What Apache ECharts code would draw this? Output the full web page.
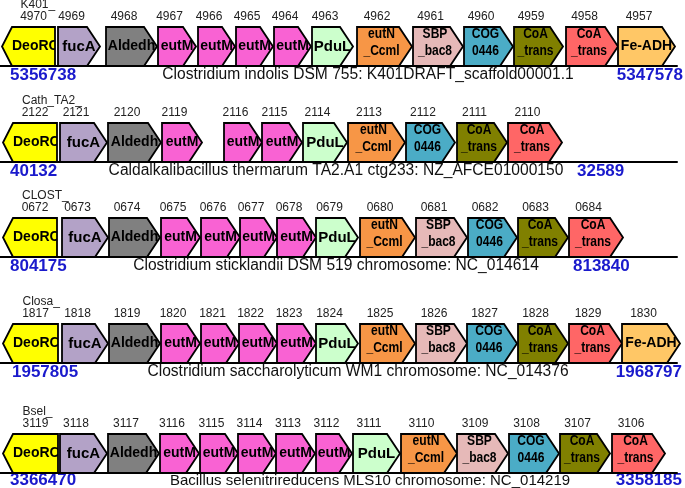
<!DOCTYPE html>
<html><head><meta charset="utf-8">
<script src="https://cdn.jsdelivr.net/npm/echarts@6/dist/echarts.min.js"></script>
<style>html,body{margin:0;padding:0;background:#fff}#c{width:685px;height:488px}</style>
</head><body><div id="c"></div>
<script>
// ---------------- DATA ----------------
const species = [
  'Clostridium indolis DSM 755: K401DRAFT_scaffold00001.1',
  'Caldalkalibacillus thermarum TA2.A1 ctg233: NZ_AFCE01000150',
  'Clostridium sticklandii DSM 519 chromosome: NC_014614',
  'Clostridium saccharolyticum WM1 chromosome: NC_014376',
  'Bacillus selenitrireducens MLS10 chromosome: NC_014219'
];
const prefixes = ['K401_', 'Cath_TA2_', 'CLOST_', 'Closa_', 'Bsel_'];
const coordStart = ['5356738', '40132', '804175', '1957805', '3366470'];
const coordEnd = ['5347578', '32589', '813840', '1968797', '3358185'];

const genes1 = ['DeoRC','fucA','Aldedh','eutM','eutM','eutM','eutM','PduL','eutN','SBP','COG','CoAa','CoAb','FeADH'];
const start1 = [2, 58, 106, 158, 198, 236, 274, 312, 357, 413, 464, 514, 566, 618];
const end1   = [55, 100, 157, 196, 235, 273, 311, 353, 412, 463, 513, 563, 618, 675];
const ids1   = ['4970','4969','4968','4967','4966','4965','4964','4963','4962','4961','4960','4959','4958','4957'];

const genes2 = ['DeoRC','fucA','Aldedh','eutM','eutM','eutM','PduL','eutN','COG','CoAa','CoAb'];
const start2 = [3, 60, 108, 162, 224, 262, 303, 348, 406, 457, 508];
const end2   = [57, 107, 161, 202, 262, 302, 347, 405, 455, 507, 562];
const ids2   = ['2122','2121','2120','2119','2116','2115','2114','2113','2112','2111','2110'];

const genes3 = ['DeoRC','fucA','Aldedh','eutM','eutM','eutM','eutM','PduL','eutN','SBP','COG','CoAa','CoAb'];
const start3 = [3, 62, 109, 161, 201, 240, 277, 316, 360, 416, 468, 518, 569];
const end3   = [57, 108, 160, 200, 240, 277, 316, 358, 415, 467, 517, 568, 623];
const ids3   = ['0672','0673','0674','0675','0676','0677','0678','0679','0680','0681','0682','0683','0684'];

const genes4 = ['DeoRC','fucA','Aldedh','eutM','eutM','eutM','eutM','PduL','eutN','SBP','COG','CoAa','CoAb','FeADH'];
const start4 = [3, 62, 109, 161, 201, 239, 277, 316, 360, 416, 467, 518, 569, 622];
const end4   = [58, 108, 160, 200, 239, 277, 316, 358, 415, 467, 517, 568, 622, 680];
const ids4   = ['1817','1818','1819','1820','1821','1822','1823','1824','1825','1826','1827','1828','1829','1830'];

const genes5 = ['DeoRC','fucA','Aldedh','eutM','eutM','eutM','eutM','eutM','PduL','eutN','SBP','COG','CoAa','CoAb'];
const start5 = [3, 60, 108, 160, 200, 238, 276, 316, 353, 401, 457, 509, 560, 612];
const end5   = [58, 107, 159, 199, 238, 276, 315, 352, 400, 457, 508, 559, 610, 665];
const ids5   = ['3119','3118','3117','3116','3115','3114','3113','3112','3111','3110','3109','3108','3107','3106'];

const geneLabels = {DeoRC:'DeoRC', fucA:'fucA', Aldedh:'Aldedh', eutM:'eutM', PduL:'PduL',
  eutN:'eutN\n_Ccml', SBP:'SBP\n_bac8', COG:'COG\n0446', CoAa:'CoA\n_trans', CoAb:'CoA\n_trans', FeADH:'Fe-ADH'};
const reverseGenes = ['DeoRC'];

// ---------------- STYLE / LAYOUT ----------------
const colors = {DeoRC:'#ffff00', fucA:'#b3a2c7', Aldedh:'#808080', eutM:'#f962d3', PduL:'#ccffcc',
  eutN:'#f79646', SBP:'#e6b9b8', COG:'#4bacc6', CoAa:'#808000', CoAb:'#ff6666', FeADH:'#ffc766'};
const fontSize = {DeoRC:14, fucA:15, Aldedh:14, eutM:14, PduL:15, eutN:14, SBP:14, COG:14, CoAa:14, CoAb:14, FeADH:14};
const FONT = '"Liberation Sans", Arial, sans-serif';
const layout = {
  top: [27, 123, 218, 324, 434], height: 39,
  textDy: [9, 9, 9, 9, 7.5],
  speciesFont: [15.6, 15.6, 15.6, 15.6, 15],
  speciesX: [368, 336, 336, 358, 370],
  startX: [10, 10, 10, 12, 10],
  endX: [683, 577, 573, 682, 682],
  endAlign: ['right', 'left', 'left', 'right', 'right']
};

const tracks = [
  {genes: genes1, start: start1, end: end1, ids: ids1},
  {genes: genes2, start: start2, end: end2, ids: ids2},
  {genes: genes3, start: start3, end: end3, ids: ids3},
  {genes: genes4, start: start4, end: end4, ids: ids4},
  {genes: genes5, start: start5, end: end5, ids: ids5}
];

function makeRender(t) {
  const tr = tracks[t];
  return function (params, api) {
    const i = params.dataIndex;
    const a = api.coord([api.value(0), 1]);
    const b = api.coord([api.value(1), 0]);
    const L = a[0], T = a[1], R = b[0], B = b[1], M = (T + B) / 2;
    const key = tr.genes[i];
    const rev = reverseGenes.indexOf(key) >= 0;
    const h = rev ? 10 : 13;
    const pts = rev ? [[L + h, T], [R, T], [R, B], [L + h, B], [L, M]]
                    : [[L, T], [R - h, T], [R, M], [R - h, B], [L, B]];
    const label = geneLabels[key];
    const two = label.indexOf('\n') >= 0;
    let tx, al;
    if (rev) { tx = L + h; al = 'left'; } else { tx = (L + R) / 2 - (two ? 3 : 0); al = 'center'; }
    const ty = M - (two ? 4 : 0);
    const bodyC = rev ? (L + h + R) / 2 : (L + R - h) / 2 - 1;
    const children = [
      {type: 'polygon', shape: {points: pts}, style: {fill: colors[key], stroke: null}},
      {type: 'group', clipPath: {type: 'polygon', shape: {points: pts}}, children: [
        {type: 'text', x: tx, y: ty, scaleX: two ? 0.86 : 1, style: {text: label, x: 0, y: 0, align: al, verticalAlign: 'middle',
          textAlign: al, textVerticalAlign: 'middle',
          font: 'bold ' + fontSize[key] + 'px ' + FONT, lineHeight: 16.5, fill: '#000'}}
      ]},
      {type: 'polygon', shape: {points: pts}, style: {fill: null, stroke: '#000', lineWidth: 1.8}},
      {type: 'text', style: {text: tr.ids[i], x: bodyC, y: T - 10, align: 'center', verticalAlign: 'middle',
        textAlign: 'center', textVerticalAlign: 'middle', font: '12px ' + FONT, fill: '#222'}}
    ];
    if (i === 0) {
      children.push({type: 'text', style: {text: prefixes[t], x: bodyC - 13, y: T - 22, align: 'left',
        verticalAlign: 'middle', textAlign: 'left', textVerticalAlign: 'middle', font: '12px ' + FONT, fill: '#222'}});
    }
    return {type: 'group', children: children};
  };
}

const grids = [], xAxes = [], yAxes = [], series = [], graphics = [];
tracks.forEach(function (tr, t) {
  grids.push({left: 0, right: 8, top: layout.top[t], height: layout.height});
  xAxes.push({gridIndex: t, type: 'value', min: 0, max: 677,
    axisLine: {show: true, onZero: false, lineStyle: {color: '#000', width: 2}},
    axisTick: {show: false}, axisLabel: {show: false}, splitLine: {show: false}});
  yAxes.push({gridIndex: t, type: 'value', min: 0, max: 1, show: false});
  series.push({type: 'custom', xAxisIndex: t, yAxisIndex: t, clip: false, renderItem: makeRender(t),
    encode: {x: [0, 1]}, data: tr.start.map(function (s, i) { return [s, tr.end[i]]; })});
  const yText = layout.top[t] + layout.height + layout.textDy[t];
  graphics.push({type: 'text', x: layout.speciesX[t], y: yText, style: {text: species[t],
    textAlign: 'center', textVerticalAlign: 'middle', align: 'center', verticalAlign: 'middle',
    font: layout.speciesFont[t] + 'px ' + FONT, fill: '#111'}});
  graphics.push({type: 'text', x: layout.startX[t], y: yText, style: {text: coordStart[t],
    textAlign: 'left', textVerticalAlign: 'middle', align: 'left', verticalAlign: 'middle',
    font: 'bold 17px ' + FONT, fill: '#1a1acc'}});
  graphics.push({type: 'text', x: layout.endX[t], y: yText, style: {text: coordEnd[t],
    textAlign: layout.endAlign[t], textVerticalAlign: 'middle', align: layout.endAlign[t], verticalAlign: 'middle',
    font: 'bold 17px ' + FONT, fill: '#1a1acc'}});
});

const chart = echarts.init(document.getElementById('c'), null, {renderer: 'canvas'});
chart.setOption({
  animation: false,
  backgroundColor: '#fff',
  grid: grids, xAxis: xAxes, yAxis: yAxes, series: series, graphic: graphics
});
</script></body></html>
